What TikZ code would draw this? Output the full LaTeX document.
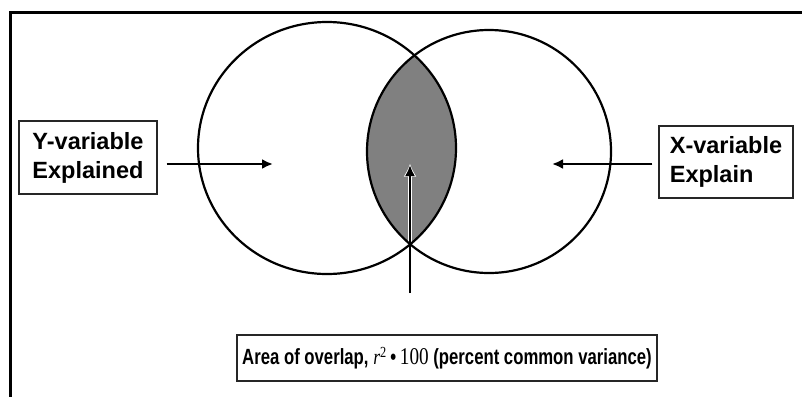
\documentclass[tikz,border=0pt]{standalone}
\usepackage{fontspec}
\setmainfont{Liberation Sans}
\newfontfamily\narrowfont[FakeStretch=0.76]{Liberation Sans}
\newfontfamily\timesfont[FakeStretch=0.8]{Liberation Serif}
\usetikzlibrary{arrows.meta}
\definecolor{lensgray}{HTML}{808080}
\definecolor{boxline}{HTML}{262626}

\begin{document}
\begin{tikzpicture}[x=1pt,y=-1pt,>={Latex[length=11pt,width=10pt]},
varbox/.style={draw=boxline,line width=1.3pt,inner sep=0pt,font=\bfseries\fontsize{23.5}{29}\selectfont},
ring/.style={line width=2.2pt},
arr/.style={->,line width=2.5pt}]
\useasboundingbox (0,0) rectangle (802,397);
% outer frame, cut off at right and bottom
\draw[line width=3pt] (802,12) -- (10,12) -- (10,397);
% the two variables
\coordinate (yc) at (327,148);
\coordinate (xc) at (489,151.5);
\coordinate (ytip) at (273,164);
\coordinate (xtip) at (552,164);
\coordinate (lenstip) at (410,165);
\coordinate (lensfoot) at (410,293);
\begin{scope}
\clip (yc) ellipse [x radius=129,y radius=126];
\fill[lensgray] (xc) ellipse [x radius=122,y radius=121.5];
\draw[white,line width=4pt,-{Latex[length=13pt,width=13pt]}] (lensfoot) -- ([yshift=1.5pt]lenstip);
\end{scope}
\draw[ring] (yc) ellipse [x radius=129,y radius=126];
\draw[ring] (xc) ellipse [x radius=122,y radius=121.5];
% labels
\node[varbox,minimum width=138pt,minimum height=73pt,align=center] (ybox) at (88,157.5) {Y-variable\\Explained};
\node[varbox,minimum width=134pt,minimum height=72pt,align=left] (xbox) at (726,162) {X-variable\\Explain};
\node[draw=boxline,line width=1.3pt,inner sep=0pt,minimum width=420pt,minimum height=46pt,
  font=\narrowfont\bfseries\fontsize{22}{24}\selectfont] (area) at (447,358)
  {Area of overlap, {\timesfont\mdseries\itshape r}\textsuperscript{\timesfont\mdseries 2}\,\textbullet\,{\timesfont\mdseries\fontsize{24}{24}\selectfont 100} (percent common variance)};
\draw[arr,shorten <=9pt] (ybox.east |- ytip) -- (ytip);
\draw[arr,shorten <=6pt] (xbox.west |- xtip) -- (xtip);
\draw[arr] (lensfoot) -- (lenstip);
\end{tikzpicture}
\end{document}
